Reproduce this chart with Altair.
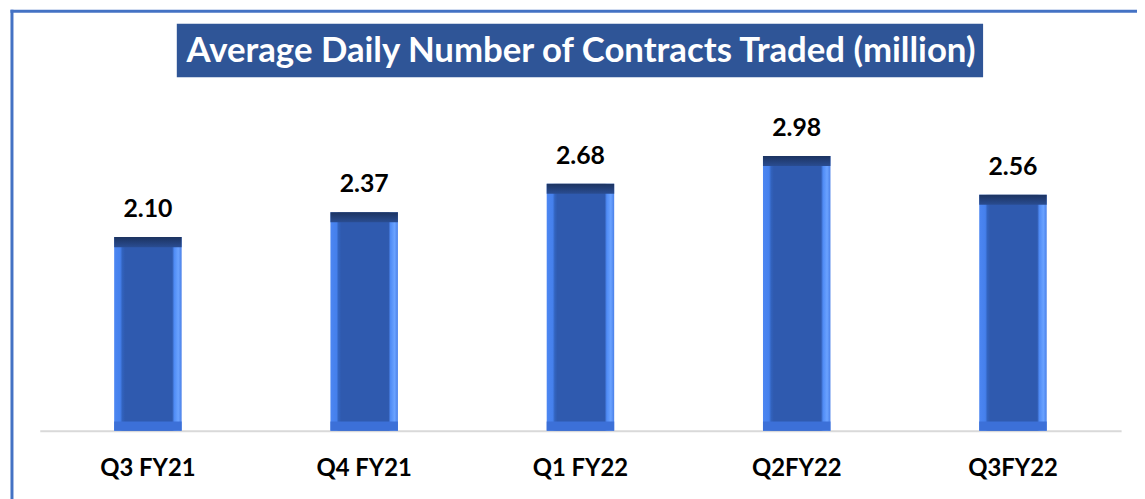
import altair as alt
import pandas as pd

quarters = ["Q3 FY21", "Q4 FY21", "Q1 FY22", "Q2FY22", "Q3FY22"]
values = [2.10, 2.37, 2.68, 2.98, 2.56]
labels = ["2.10", "2.37", "2.68", "2.98", "2.56"]
title_text = "Average Daily Number of Contracts Traded (million)"

df = pd.DataFrame({"quarter": quarters, "value": values, "label": labels})

W, H = 1089, 325

x_enc = alt.X("quarter:N", sort=quarters,
              scale=alt.Scale(paddingInner=0.688, paddingOuter=0.344),
              axis=alt.Axis(title=None, labelAngle=0, labelFont="Lato", labelFontSize=24,
                            labelFontWeight="bold", labelColor="#000000", ticks=False,
                            tickSize=0, labelPadding=45, labelBaseline="alphabetic",
                            domainColor="#d9d9d9", domainWidth=2, grid=False))
y_scale = alt.Scale(domain=[0, 3.5], nice=False, zero=True)

side_grad = alt.Gradient(
    gradient="linear", x1=0, x2=1, y1=0, y2=0,
    stops=[alt.GradientStop(color="#4C86F2", offset=0),
           alt.GradientStop(color="#4580EC", offset=0.09),
           alt.GradientStop(color="#3263BE", offset=0.12),
           alt.GradientStop(color="#2F5AAF", offset=0.16),
           alt.GradientStop(color="#2F5AAF", offset=0.86),
           alt.GradientStop(color="#4F8BF5", offset=0.89),
           alt.GradientStop(color="#6AA2FF", offset=0.95),
           alt.GradientStop(color="#4A80E8", offset=1)])

base = alt.Chart(df)

bars = base.mark_bar(color=side_grad).encode(
    x=x_enc,
    y=alt.Y("value:Q", scale=y_scale, axis=None),
)

top_grad = alt.Gradient(
    gradient="linear", x1=0, x2=0, y1=0, y2=1,
    stops=[alt.GradientStop(color="#1C3360", offset=0),
           alt.GradientStop(color="#2A4D92", offset=1)])

top_band = base.transform_calculate(lower="datum.value - 0.11").mark_bar(color=top_grad).encode(
    x=alt.X("quarter:N", sort=quarters),
    y=alt.Y("value:Q", scale=y_scale, axis=None),
    y2="lower:Q",
)

bottom_band = base.transform_calculate(upper="0.1", zero="0").mark_bar(color="#3C70D8").encode(
    x=alt.X("quarter:N", sort=quarters),
    y=alt.Y("upper:Q", scale=y_scale, axis=None),
    y2="zero:Q",
)

text = base.mark_text(font="Lato", fontSize=25, fontWeight="bold", color="#000000",
                      baseline="alphabetic", dy=-20).encode(
    x=alt.X("quarter:N", sort=quarters),
    y=alt.Y("value:Q", scale=y_scale, axis=None),
    text="label:N",
)

one = alt.Data(values=[{"t": title_text}])

title_box = alt.Chart(one).mark_rect(color="#2F5597").encode(
    x=alt.value(138), x2=alt.value(950), y=alt.value(-85), y2=alt.value(-31))

title_label = alt.Chart(one).mark_text(font="Lato", fontSize=35, fontWeight="bold",
                                       color="#FFFFFF", baseline="middle", align="center").encode(
    x=alt.value(545), y=alt.value(-57), text="t:N")

border_left = alt.Chart(one).mark_rule(color="#4472C4", strokeWidth=3).encode(
    x=alt.value(-28), y=alt.value(-99), y2=alt.value(400))
border_top = alt.Chart(one).mark_rule(color="#4472C4", strokeWidth=3).encode(
    x=alt.value(-29.5), x2=alt.value(1200), y=alt.value(-97.5))

chart = alt.layer(bars, top_band, bottom_band, text, title_box, title_label,
                  border_left, border_top).properties(
    width=W, height=H,
    autosize=alt.AutoSizeParams(type="none"),
    padding={"left": 32, "top": 99, "right": 16, "bottom": 67},
    background="#FFFFFF",
).configure_view(stroke=None)

chart.save("out.html", embed_options={"renderer": "svg", "actions": False})
